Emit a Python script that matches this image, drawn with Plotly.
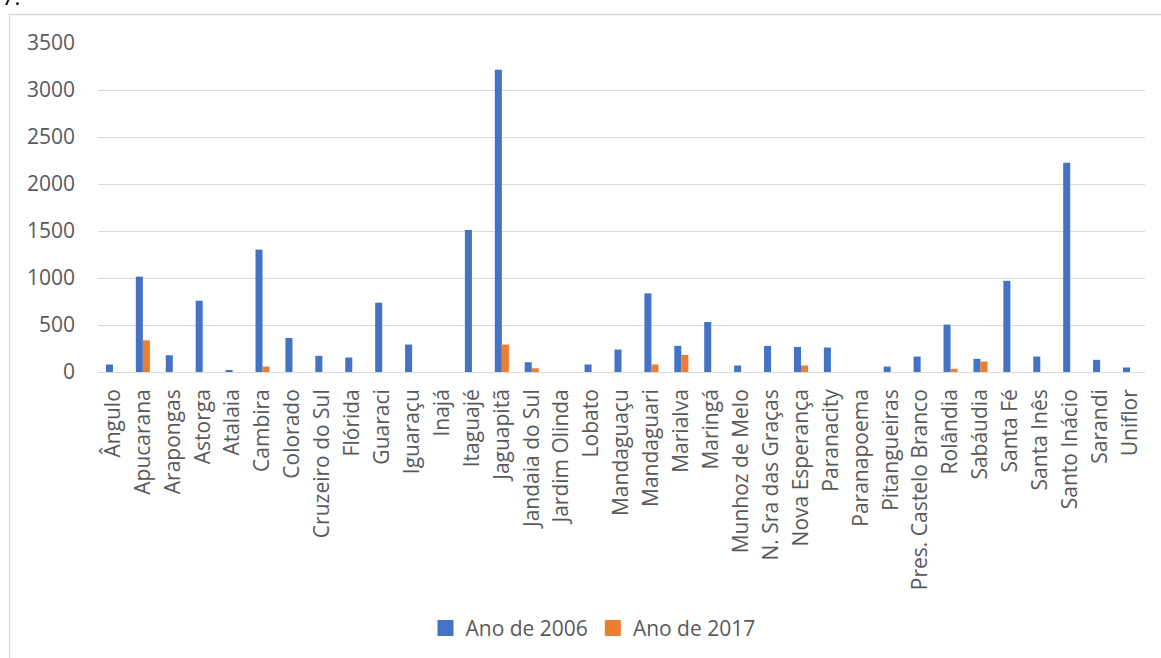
import plotly.graph_objects as go

municipios = [
    "Ângulo", "Apucarana", "Arapongas", "Astorga", "Atalaia", "Cambira",
    "Colorado", "Cruzeiro do Sul", "Flórida", "Guaraci", "Iguaraçu", "Inajá",
    "Itaguajé", "Jaguapitã", "Jandaia do Sul", "Jardim Olinda", "Lobato",
    "Mandaguaçu", "Mandaguari", "Marialva", "Maringá", "Munhoz de Melo",
    "N. Sra das Graças", "Nova Esperança", "Paranacity", "Paranapoema",
    "Pitangueiras", "Pres. Castelo Branco", "Rolândia", "Sabáudia",
    "Santa Fé", "Santa Inês", "Santo Inácio", "Sarandi", "Uniflor",
]

ano_2006 = [
    80, 1015, 178, 758, 19, 1302,
    362, 172, 154, 737, 292, 0,
    1511, 3215, 104, 0, 80,
    239, 836, 278, 532, 69,
    278, 267, 260, 0,
    58, 164, 504, 140,
    970, 164, 2225, 129, 48,
]

ano_2017 = [
    0, 337, 0, 0, 0, 58,
    0, 0, 0, 0, 0, 0,
    0, 292, 40, 0, 0,
    0, 80, 182, 0, 0,
    0, 69, 0, 0,
    0, 0, 34, 111,
    0, 0, 0, 0, 0,
]

y_ticks = [0, 500, 1000, 1500, 2000, 2500, 3000, 3500]

AZUL = "#4472C4"
LARANJA = "#ED7D31"
CINZA_TEXTO = "#595959"
CINZA_GRADE = "#D9D9D9"
FONTE = "Open Sans"
TAM = 21

fig = go.Figure()
fig.add_trace(go.Bar(name="Ano de 2006", x=municipios, y=ano_2006,
                     marker=dict(color=AZUL, line=dict(width=0)),
                     showlegend=False))
fig.add_trace(go.Bar(name="Ano de 2017", x=municipios, y=ano_2017,
                     marker=dict(color=LARANJA, line=dict(width=0)),
                     showlegend=False))

# legend entries drawn as square markers
for nome, cor in [("Ano de 2006", AZUL), ("Ano de 2017", LARANJA)]:
    fig.add_trace(go.Scatter(name=nome, x=[None], y=[None], mode="markers",
                             marker=dict(symbol="square", size=19, color=cor),
                             showlegend=True))

# plot area: x 98..1145 px, y 43.3..373.5 px
L, R, T, B = 98, 16, 43.3, 658 - 373.5
W = 1161 - L - R
H = 658 - T - B

def px_x(p):
    return (p - L) / W

def px_y(p):
    return (658 - B - p) / H

fig.update_layout(
    width=1161, height=658,
    margin=dict(l=L, r=R, t=T, b=B),
    paper_bgcolor="white", plot_bgcolor="white",
    barmode="group", bargap=0.53, bargroupgap=0,
    font=dict(family=FONTE, color=CINZA_TEXTO, size=TAM),
    showlegend=True,
    legend=dict(orientation="h", x=px_x(593), y=px_y(629),
                xanchor="center", yanchor="middle",
                font=dict(size=TAM, color=CINZA_TEXTO),
                itemwidth=30, bgcolor="rgba(0,0,0,0)"),
    xaxis=dict(tickangle=-90, tickfont=dict(size=TAM, color=CINZA_TEXTO),
               showgrid=False, showline=False, ticks="",
               ticklabelstandoff=12),
    yaxis=dict(range=[0, 3500], tickvals=y_ticks,
               tickfont=dict(size=TAM, color=CINZA_TEXTO),
               showgrid=True, gridcolor=CINZA_GRADE, gridwidth=1.3,
               zeroline=True, zerolinecolor=CINZA_GRADE, zerolinewidth=1.3,
               showline=False, ticks="", ticklabelstandoff=22),
    shapes=[dict(type="rect", xref="paper", yref="paper",
                 x0=px_x(9.5), x1=px_x(1180), y0=px_y(700), y1=px_y(14.7),
                 line=dict(color=CINZA_GRADE, width=1.3),
                 fillcolor="rgba(0,0,0,0)", layer="below")],
    annotations=[dict(text="7.", xref="paper", yref="paper",
                      x=px_x(0), y=px_y(13), xanchor="left", yanchor="bottom",
                      showarrow=False,
                      font=dict(family=FONTE, size=22, color="black"))],
)

fig.write_html("out.html")
